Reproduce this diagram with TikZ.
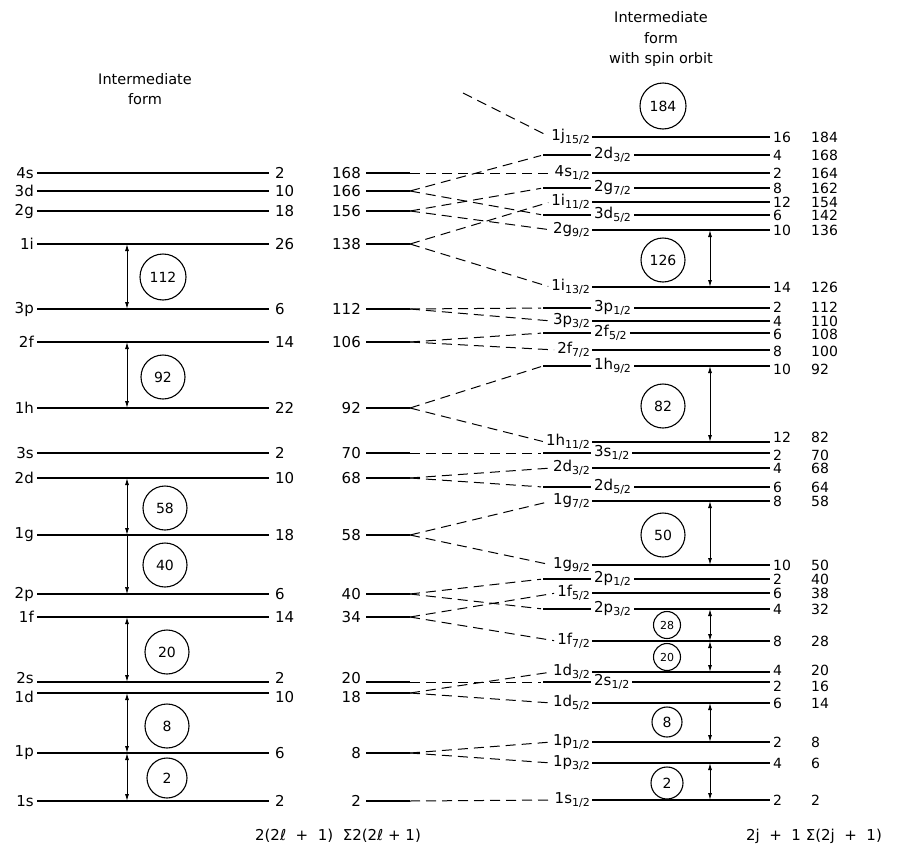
\documentclass[tikz,border=0pt]{standalone}
\usepackage{fontspec}
\setmainfont{DejaVu Sans}
\usetikzlibrary{arrows.meta}
% level label with j/2 subscript
\newcommand\lv[2]{#1\raisebox{-0.4ex}{\fontsize{11}{12}\selectfont #2/2}}

\begin{document}
\begin{tikzpicture}[x=1pt, y=-1pt,
    level/.style={line width=1.6pt},
    split/.style={line width=1pt, dash pattern=on 10pt off 6pt, shorten >=2pt},
    gap/.style={draw, circle, line width=1.1pt, inner sep=0pt, font=\fontsize{14}{15}\selectfont},
    dbl/.style={{Latex[length=7pt,width=4pt]}-{Latex[length=7pt,width=4pt]}, line width=0.9pt},
    sgl/.style={-{Latex[length=7pt,width=4pt]}, line width=0.6pt},
    num/.style={font=\fontsize{15}{17}\selectfont, inner sep=1pt},
    cnt/.style={font=\fontsize{14}{15}\selectfont, inner sep=0pt, anchor=west},
    ttl/.style={font=\fontsize{14.5}{20.5}\selectfont, align=center}
  ]
  \useasboundingbox (0,0) rectangle (898,849);

  \node[ttl] (t1) at (145,89) {Intermediate\\form};
  \node[ttl] (t2) at (661,39) {Intermediate\\form\\with spin orbit};

  % left column
  \foreach \lbl/\y/\dg/\dy in {4s/173/2/0, 3d/191/10/0, 2g/211/18/0, 1i/244/26/0, 3p/309/6/0,
      2f/342/14/0, 1h/408/22/0, 3s/453/2/0, 2d/478/10/0, 1g/535/18/0, 2p/594/6/0, 1f/617/14/0,
      2s/682/2/4, 1d/693/10/-4, 1p/753/6/0, 1s/801/2/0} {
    \node[num, anchor=east, yshift=\dy pt] (l-\lbl) at (35,\y) {\lbl};
    \node[num, anchor=west, yshift=\dy pt] (ld-\lbl) at (274,\y) {\dg};
    \draw[level] ([xshift=2pt]l-\lbl.east |- 0,\y) -- ([xshift=-5pt]ld-\lbl.west |- 0,\y);
  }

  % middle column
  \foreach \n/\y/\dy in {168/173/0, 166/191/0, 156/211/0, 138/244/0, 112/309/0, 106/342/0,
      92/408/0, 70/453/0, 68/478/0, 58/535/0, 40/594/0, 34/617/0, 20/682/4, 18/693/-4,
      8/753/0, 2/801/0} {
    \node[num, anchor=east, yshift=\dy pt] (m-\n) at (362,\y) {\n};
    \coordinate (mx-\n) at (410,\y);
    \draw[level] (366,\y) -- (mx-\n);
  }

  % right column, label first
  \foreach \k/\y/\nm/\sb/\dg/\sm/\dy in {1/137/1j/15/16/184/0, 3/173/4s/1/2/164/0,
      5/202/1i/11/12/154/0, 7/230/2g/9/10/136/0, 8/287/1i/13/14/126/0, 10/321/3p/3/4/110/0,
      12/350/2f/7/8/100/-1, 14/442/1h/11/12/82/5, 16/468/2d/3/4/68/0, 18/501/1g/7/8/58/0,
      19/565/1g/9/10/50/0, 21/593/1f/5/6/38/0, 23/641/1f/7/8/28/0, 24/672/1d/3/4/20/2,
      26/703/1d/5/6/14/0, 27/742/1p/1/2/8/0, 28/763/1p/3/4/6/0, 29/800/1s/1/2/2/0} {
    \node[num, anchor=east] (n-\k) at (591,\y) {\lv{\nm}{\sb}};
    \coordinate (r-\k) at (n-\k.west |- 0,\y);
    \node[cnt, yshift=\dy pt] (d-\k) at (773,\y) {\dg};
    \node[cnt, yshift=\dy pt] (s-\k) at (811,\y) {\sm};
    \draw[level] ([xshift=1pt]n-\k.east |- r-\k) -- (770,\y);
  }

  % right column, short line first
  \foreach \k/\y/\nm/\sb/\dg/\sm/\dy in {2/155/2d/3/4/168/0, 4/188/2g/7/8/162/0,
      6/215/3d/5/6/142/0, 9/308/3p/1/2/112/1, 11/333/2f/5/6/108/-1, 13/366/1h/9/10/92/-3,
      15/453/3s/1/2/70/-2, 17/487/2d/5/6/64/0, 20/579/2p/1/2/40/0, 22/609/2p/3/4/32/0,
      25/682/2s/1/2/16/-4} {
    \coordinate (r-\k) at (543,\y);
    \node[num, anchor=west] (n-\k) at (593,\y) {\lv{\nm}{\sb}};
    \node[cnt, yshift=\dy pt] (d-\k) at (773,\y) {\dg};
    \node[cnt, yshift=\dy pt] (s-\k) at (811,\y) {\sm};
    \draw[level] (r-\k) -- ([xshift=-2pt]n-\k.west |- r-\k);
    \draw[level] ([xshift=2pt]n-\k.east |- r-\k) -- (770,\y);
  }

  % splitting
  \coordinate (up) at (463,93);
  \draw[split] (up) -- (r-1);
  \foreach \m/\k in {168/3, 166/2, 166/6, 156/4, 156/7, 138/5, 138/8, 112/9, 112/10,
      106/11, 106/12, 92/13, 92/14, 70/15, 68/16, 68/17, 58/18, 58/19, 40/20, 40/22,
      34/21, 34/23, 20/25, 18/24, 18/26, 8/27, 8/28, 2/29}
    \draw[split] (mx-\m) -- (r-\k);

  % magic numbers
  \foreach \v/\x/\y/\d in {112/163/277/46, 92/163/377/44, 58/165/508/44, 40/165/565/44,
      20/167/652/44, 8/167/726/44, 2/167/778/40, 184/663/106/46, 126/663/260/44,
      82/663/406/44, 50/663/535/44, 8/667/722/30, 2/667/783/32}
    \node[gap, minimum size=\d pt] (g-\v-\x) at (\x,\y) {\v};
  \node[gap, minimum size=27pt, font=\fontsize{11}{12}\selectfont] (g-28) at (667,625) {28};
  \node[gap, minimum size=27pt, font=\fontsize{11}{12}\selectfont] (g-20r) at (667,657) {20};

  \coordinate (ax) at (127,0);
  \draw[dbl] (ax |- 0,244) -- (ax |- 0,309);
  \draw[dbl] (ax |- 0,342) -- (ax |- 0,408);
  \draw[dbl] (ax |- 0,478) -- (ax |- 0,535);
  \draw[sgl] (ax |- 0,535) -- (ax |- 0,594);
  \draw[dbl] (ax |- 0,617) -- (ax |- 0,682);
  \draw[dbl] (ax |- 0,693) -- (ax |- 0,753);
  \draw[dbl] (ax |- 0,753) -- (ax |- 0,801);

  \coordinate (bx) at (710,0);
  \draw[dbl] (bx |- r-7) -- (bx |- r-8);
  \draw[dbl] (bx |- r-13) -- (bx |- r-14);
  \draw[dbl] (bx |- r-18) -- (bx |- r-19);
  \draw[dbl] (bx |- r-22) -- (bx |- r-23);
  \draw[dbl] (bx |- r-23) -- (bx |- r-24);
  \draw[dbl] (bx |- r-26) -- (bx |- r-27);
  \draw[dbl] (bx |- r-28) -- (bx |- r-29);

  \node[num] (c1) at (338,836) {2(2ℓ\ \ +\ \ 1)\ \ Σ2(2ℓ\ +\ 1)};
  \node[num] (c2) at (814,836) {2j\ \ +\ \ 1\ Σ(2j\ \ +\ \ 1)};
\end{tikzpicture}
\end{document}
